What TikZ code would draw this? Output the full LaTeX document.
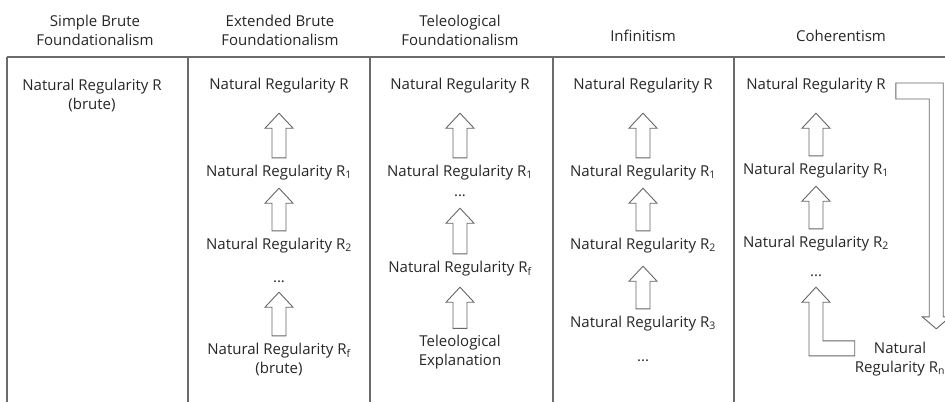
\documentclass[tikz,border=0pt]{standalone}
\usepackage{fontspec}
\setmainfont{Open Sans}
\usetikzlibrary{calc}

% hollow block arrow pointing up from node #2 to node #3, #1 = gap below the upper node
\newcommand{\blockup}[3][8.5]{%
    \path ($(#2.north)+(0,-6.5)$) coordinate (base)
          ($(#2.north|-#3.south)+(0,#1)$) coordinate (tip);
    \draw[block] ($(base)+(-7,0)$) -- ($(tip)+(-7,15)$) -- ($(tip)+(-14,15)$) -- (tip)
        -- ($(tip)+(14,15)$) -- ($(tip)+(7,15)$) -- ($(base)+(7,0)$) -- cycle;}

\begin{document}
\begin{tikzpicture}[x=1pt,y=-1pt]
    \tikzstyle{rule}=[draw=black!58, line width=1.1pt]
    \tikzstyle{label}=[text=black!85, font=\fontsize{15}{19}\selectfont, inner sep=0pt, align=center]
    \tikzstyle{entry}=[label, text height=11.5pt, text depth=3.5pt]
    \tikzstyle{block}=[draw=black!60, fill=white, line width=0.9pt, line join=miter]

    \useasboundingbox (0,0) rectangle (945,402);

    % Draw the header line and the column rules
    \draw[rule] (7,57) -- (945,57);
    \foreach \x in {7,188,370,553,734}
        \draw[rule] (\x,57) -- (\x,402);

    % Column headers
    \node[label] (H-1) at (95,30) {Simple Brute\\Foundationalism};
    \node[label] (H-2) at (280,30) {Extended Brute\\Foundationalism};
    \node[label] (H-3) at (460,30) {Teleological\\Foundationalism};
    \node[label] (H-4) at (643,36) {Infinitism};
    \node[label] (H-5) at (841,36) {Coherentism};

    % Simple brute foundationalism
    \node[label] (S-0) at (92,95) {Natural Regularity R\\(brute)};

    % Extended brute foundationalism
    \node[entry] (B-0) at (279,85) {Natural Regularity R};
    \node[entry] (B-1) at (279,172) {Natural Regularity R\textsubscript{1}};
    \node[entry] (B-2) at (279,245) {Natural Regularity R\textsubscript{2}};
    \node[entry] (B-d) at (279,278) {...};
    \node[label] (B-f) at (279,359) {Natural Regularity R\textsubscript{f}\\(brute)};
    \blockup[20.5]{B-1}{B-0}
    \blockup{B-2}{B-1}
    \blockup[6.5]{B-f}{B-d}

    % Teleological foundationalism
    \node[entry] (T-0) at (460,85) {Natural Regularity R};
    \node[entry] (T-1) at (460,172) {Natural Regularity R\textsubscript{1}};
    \node[entry] (T-d) at (460,192) {...};
    \node[entry] (T-f) at (460,268) {Natural Regularity R\textsubscript{f}};
    \node[label] (T-e) at (460,352) {Teleological\\Explanation};
    \blockup[20.5]{T-1}{T-0}
    \blockup{T-f}{T-d}
    \blockup[11.5]{T-e}{T-f}

    % Infinitism
    \node[entry] (I-0) at (643,85) {Natural Regularity R};
    \foreach \name / \y in {1/172,2/245,3/323}
        \node[entry] (I-\name) at (643,\y) {Natural Regularity R\textsubscript{\name}};
    \node[entry] (I-d) at (643,357) {...};
    \blockup[20.5]{I-1}{I-0}
    \blockup{I-2}{I-1}
    \blockup[13.5]{I-3}{I-2}

    % Coherentism
    \node[entry] (C-0) at (816,85) {Natural Regularity R};
    \node[entry] (C-1) at (816,170) {Natural Regularity R\textsubscript{1}};
    \node[entry] (C-2) at (816,243) {Natural Regularity R\textsubscript{2}};
    \node[entry] (C-d) at (816,272) {...};
    \node[label] (C-n) at (900,359) {Natural\\Regularity R\textsubscript{n}};
    \blockup[20.5]{C-1}{C-0}
    \blockup{C-2}{C-1}

    % bent arrow from R_n back up to the chain
    \path ($(C-n.north west)+(0,6)$) coordinate (e)
          ($(C-d.south)+(0,7.5)$) coordinate (t);
    \draw[block] ($(e)+(0,-7)$) -- ($(t|-e)+(7,-7)$) -- ($(t)+(7,15)$) -- ($(t)+(14,15)$) -- (t)
        -- ($(t)+(-14,15)$) -- ($(t)+(-7,15)$) -- ($(t|-e)+(-7,8)$) -- ($(e)+(0,8)$) -- cycle;

    % long arrow from R down to R_n
    \path ($(C-0.east)+(10,6)$) coordinate (s)
          ($(C-n.north east)+(-9,-13)$) coordinate (t2);
    \draw[block] ($(s)+(0,-8)$) -- ($(t2|-s)+(7,-8)$) -- ($(t2)+(7,-12)$) -- ($(t2)+(14,-12)$) -- (t2)
        -- ($(t2)+(-14,-12)$) -- ($(t2)+(-7,-12)$) -- ($(t2|-s)+(-7,8)$) -- ($(s)+(0,8)$) -- cycle;
\end{tikzpicture}
\end{document}
